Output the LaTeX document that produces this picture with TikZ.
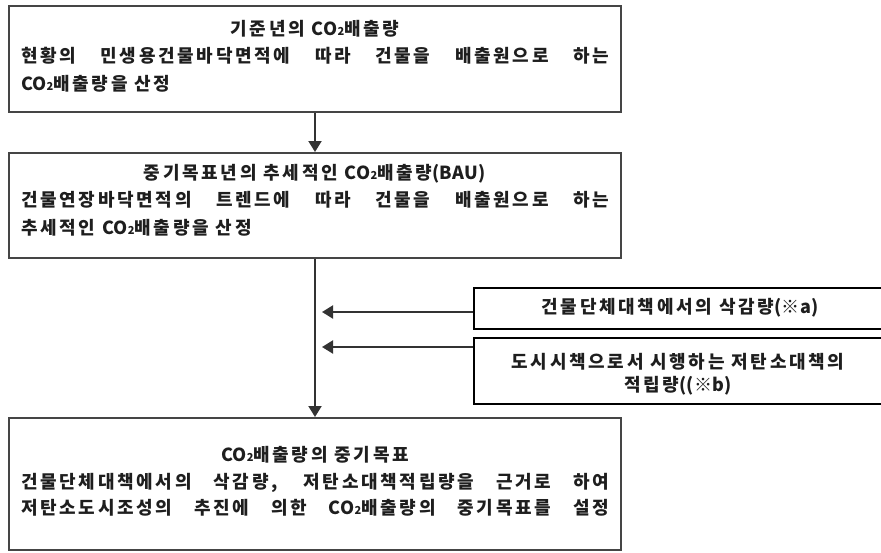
\documentclass[tikz,border=0pt]{standalone}
\usepackage{fontspec}
\setmainfont{Noto Sans CJK KR}[LetterSpace=15]
\newfontfamily\tightfont{Noto Sans CJK KR}[LetterSpace=2]
\usetikzlibrary{arrows.meta}
\definecolor{boxgray}{HTML}{454545}
\definecolor{linegray}{HTML}{333333}
\definecolor{txt}{HTML}{1E1E1E}
% Latin runs set without the wide Hangul tracking
\newcommand\tight[1]{{\tightfont\bfseries #1}}
% CO2 with a small baseline digit
\newcommand\cotwo{\tight{CO{\fontsize{11}{11}\selectfont 2}}}
% justified and left-set lines of the main boxes
\newcommand\fullline[1]{\makebox[588pt][s]{#1}}
\newcommand\restline[1]{\makebox[588pt][l]{#1}}
\begin{document}
\begin{tikzpicture}[x=1pt,y=-1pt,
  mainbox/.style={draw=boxgray, line width=2pt, minimum width=612pt, inner sep=0pt},
  sidebox/.style={draw=black, line width=1.3pt, minimum width=600pt, inner sep=0pt},
  label/.style={inner sep=0pt, text=txt, font=\bfseries\fontsize{18}{27.5}\selectfont},
  flow/.style={draw=linegray, line width=2pt, -{Triangle[width=13pt,length=11pt]}}]
\useasboundingbox (0,0) rectangle (881,552);
\clip (0,0) rectangle (881,552);

% main chain
\node[mainbox, minimum height=106pt] (base) at (315,59) {};
\node[label] (baseText) at (315,57) {\begin{tabular}{@{}c@{}}
  기준년의 \cotwo 배출량\\
  \fullline{현황의 민생용건물바닥면적에 따라 건물을 배출원으로 하는}\\
  \restline{\cotwo 배출량을 산정}
\end{tabular}};

\node[mainbox, minimum height=105pt] (state) at (315,205.5) {};
\node[label] (stateText) at (315,201) {\begin{tabular}{@{}c@{}}
  중기목표년의 추세적인 \cotwo 배출량\tight{(BAU)}\\
  \fullline{건물연장바닥면적의 트렌드에 따라 건물을 배출원으로 하는}\\
  \restline{추세적인 \cotwo 배출량을 산정}
\end{tabular}};

\node[mainbox, minimum height=132pt] (goal) at (315,484) {};
\node[label, font=\bfseries\fontsize{18}{26.5}\selectfont] (goalText) at (315,483) {\begin{tabular}{@{}c@{}}
  \cotwo 배출량의 중기목표\\
  \fullline{건물단체대책에서의 삭감량, 저탄소대책적립량을 근거로 하여}\\
  \fullline{저탄소도시조성의 추진에 의한 \cotwo 배출량의 중기목표를 설정}
\end{tabular}};

% reduction measures on the right
\node[sidebox, minimum height=41pt] (cutA) at (774,308.5) {};
\node[label] (cutAText) at (680,308) {건물단체대책에서의 삭감량\tight{(※a)}};

\node[sidebox, minimum height=66pt] (cutB) at (774,371) {};
\node[label, font=\bfseries\fontsize{18}{23}\selectfont] (cutBText) at (678,375) {\begin{tabular}{@{}c@{}}
  도시시책으로서 시행하는 저탄소대책의\\
  적립량\tight{((※b)}
\end{tabular}};

% connectors
\coordinate (inA) at (322,312);
\coordinate (inB) at (322,347);
\draw[flow] (base) -- (state);
\draw[flow] (state) -- (goal);
\draw[flow] (cutA.west |- inA) -- (inA);
\draw[flow] (cutB.west |- inB) -- (inB);
\end{tikzpicture}
\end{document}
